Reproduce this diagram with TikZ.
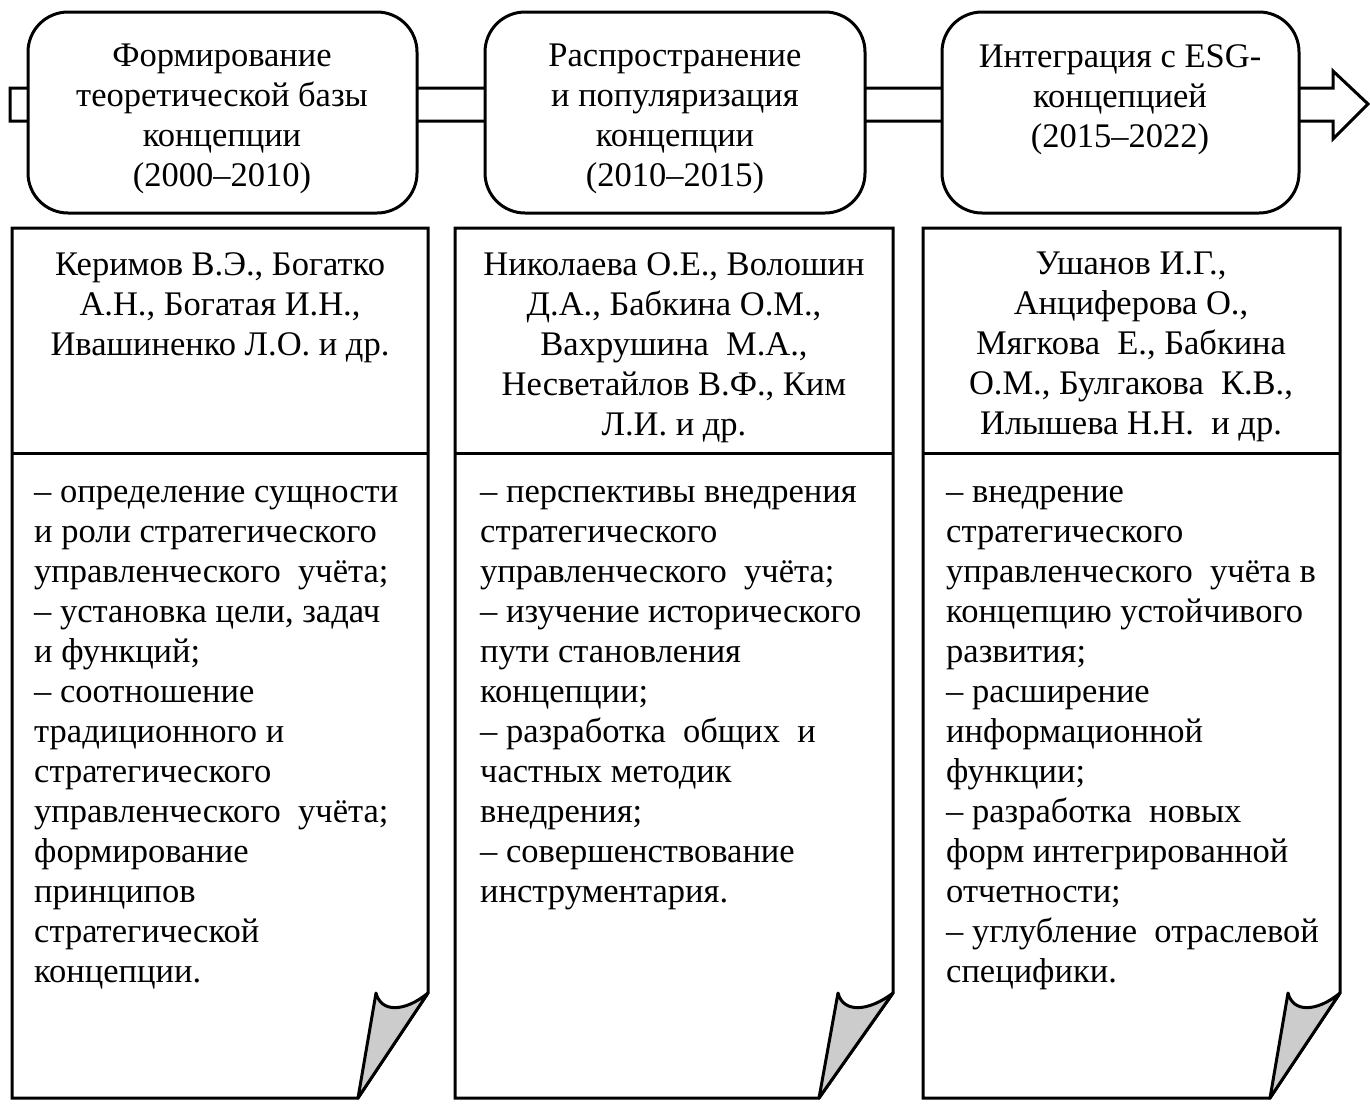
\documentclass[tikz,border=0pt]{standalone}
\usepackage{fontspec}
\setmainfont{Liberation Serif}
\usetikzlibrary{positioning}

\tikzset{
  stage/.style={draw, line width=3pt, rounded corners=40pt, fill=white, inner sep=0pt},
  sheet/.style={draw, line width=3pt, fill=white},
  curl/.style={draw, line width=3pt, fill=black!20, line join=round},
  title/.style={inner sep=0pt, align=center, font=\fontsize{34.5}{40}\selectfont},
  names/.style={inner sep=0pt, align=center, font=\fontsize{34.5}{40}\selectfont},
  items/.style={inner sep=0pt, align=left, font=\fontsize{34.5}{40}\selectfont}
}

\begin{document}
\begin{tikzpicture}[x=1pt, y=-1pt]
\useasboundingbox (0,0) rectangle (1370,1109);

% timeline arrow behind the stages
\draw[line width=3pt, fill=white] (10,88) -- (1333,88) -- (1333,71) -- (1368,104)
  -- (1333,139) -- (1333,121) -- (10,121) -- cycle;

% stages
\node[stage, minimum width=389pt, minimum height=201pt] (stage1) at (222.5,112.5) {};
\node[stage, minimum width=380pt, minimum height=201pt] (stage2) at (675,112.5) {};
\node[stage, minimum width=357pt, minimum height=201pt] (stage3) at (1120.5,112.5) {};

\node[title, anchor=north] (title1) at (222,44) {Формирование\\теоретической базы\\концепции\\(2000--2010)};
\node[title, anchor=north] (title2) at (675,44) {Распространение\\и популяризация\\концепции\\(2010--2015)};
\node[title, anchor=north] (title3) at (1120,44) {Интеграция с ESG-\\концепцией\\(2015--2022)};

% sheets with curled corner
\draw[sheet] (12,228) -- (428,228) -- (428,993) -- (358,1098) -- (12,1098) -- cycle;
\draw[line width=3pt] (12,453) -- (428,453);
\draw[curl] (358,1098) -- (376,993) .. controls (381,1013) and (405,1012) .. (428,993) -- cycle;

\draw[sheet] (455,228) -- (893,228) -- (893,993) -- (819,1098) -- (455,1098) -- cycle;
\draw[line width=3pt] (455,453) -- (893,453);
\draw[curl] (819,1098) -- (838,993) .. controls (843,1013) and (868,1012) .. (893,993) -- cycle;

\draw[sheet] (923,228) -- (1340,228) -- (1340,993) -- (1270,1098) -- (923,1098) -- cycle;
\draw[line width=3pt] (923,453) -- (1340,453);
\draw[curl] (1270,1098) -- (1288,993) .. controls (1293,1013) and (1317,1012) .. (1340,993) -- cycle;

% authors
\node[names, anchor=north] (names1) at (220,252) {Керимов В.Э., Богатко\\А.Н., Богатая И.Н.,\\Ивашиненко Л.О. и др.};
\node[names, anchor=north] (names2) at (674,252) {Николаева О.Е., Волошин\\Д.А., Бабкина О.М.,\\Вахрушина\ \ М.А.,\\Несветайлов В.Ф., Ким\\Л.И. и др.};
\node[names, anchor=north] (names3) at (1131,252) {Ушанов И.Г.,\\Анциферова О.,\\Мягкова\ \ Е., Бабкина\\О.М., Булгакова\ \ К.В.,\\Илышева Н.Н.\ \ и др.};

% directions of research
\node[items, anchor=north west] (items1) at (34,486) {-- определение сущности\\и роли стратегического\\управленческого\ \ учёта;\\-- установка цели, задач\\и функций;\\-- соотношение\\традиционного и\\стратегического\\управленческого\ \ учёта;\\формирование\\принципов\\стратегической\\концепции.};
\node[items, anchor=north west] (items2) at (480,486) {-- перспективы внедрения\\стратегического\\управленческого\ \ учёта;\\-- изучение исторического\\пути становления\\концепции;\\-- разработка\ \ общих\ \ и\\частных методик\\внедрения;\\-- совершенствование\\инструментария.};
\node[items, anchor=north west] (items3) at (946,486) {-- внедрение\\стратегического\\управленческого\ \ учёта в\\концепцию устойчивого\\развития;\\-- расширение\\информационной\\функции;\\-- разработка\ \ новых\\форм интегрированной\\отчетности;\\-- углубление\ \ отраслевой\\специфики.};
\end{tikzpicture}
\end{document}
